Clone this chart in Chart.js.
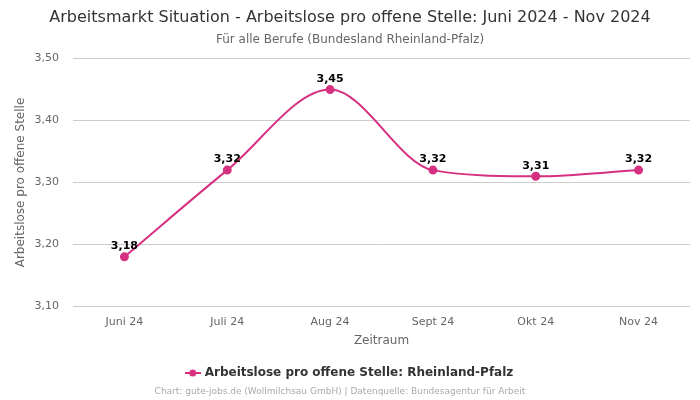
<!DOCTYPE html>
<html>
<head>
<meta charset="utf-8">
<script src="https://cdn.jsdelivr.net/npm/chart.js@4"></script>
<style>
  body { margin: 0; background: #fff; }
  #wrap { width: 700px; height: 400px; }
</style>
</head>
<body>
<div id="wrap"><canvas id="chart" width="700" height="400"></canvas></div>
<script>
const months = ['Juni 24', 'Juli 24', 'Aug 24', 'Sept 24', 'Okt 24', 'Nov 24'];
const values = [3.18, 3.32, 3.45, 3.32, 3.31, 3.32];
const seriesName = 'Arbeitslose pro offene Stelle: Rheinland-Pfalz';
const lineColor = 'rgb(214, 48, 128)';

const fmt = v => v.toFixed(2).replace('.', ',');

// small legend icon: line with a dot in the middle
function legendIcon() {
  const c = document.createElement('canvas');
  c.width = 16; c.height = 10;
  const g = c.getContext('2d');
  g.strokeStyle = lineColor;
  g.lineWidth = 2;
  g.beginPath(); g.moveTo(0, 5); g.lineTo(16, 5); g.stroke();
  g.fillStyle = lineColor;
  g.beginPath(); g.arc(8, 5, 3.5, 0, Math.PI * 2); g.fill();
  return c;
}

const valueLabels = {
  id: 'valueLabels',
  afterDatasetsDraw(chart) {
    const ctx = chart.ctx;
    const meta = chart.getDatasetMeta(0);
    ctx.save();
    ctx.font = 'bold 11px "DejaVu Sans"';
    ctx.fillStyle = '#000';
    ctx.textAlign = 'center';
    ctx.textBaseline = 'bottom';
    meta.data.forEach((pt, i) => {
      ctx.fillText(fmt(values[i]), pt.x, pt.y - 5);
    });
    ctx.restore();
  }
};

const footer = {
  id: 'footer',
  afterDraw(chart) {
    const ctx = chart.ctx;
    ctx.save();
    ctx.font = '9px "DejaVu Sans"';
    ctx.fillStyle = '#aaa';
    ctx.textAlign = 'center';
    ctx.textBaseline = 'middle';
    ctx.fillText('Chart: gute-jobs.de (Wollmilchsau GmbH) | Datenquelle: Bundesagentur für Arbeit', 340, 392);
    ctx.restore();
  }
};

new Chart(document.getElementById('chart'), {
  type: 'line',
  data: {
    labels: months,
    datasets: [{
      label: seriesName,
      data: values,
      borderColor: lineColor,
      backgroundColor: lineColor,
      borderWidth: 2,
      pointRadius: 3.5,
      pointHoverRadius: 3.5,
      cubicInterpolationMode: 'monotone',
      fill: false
    }]
  },
  options: {
    responsive: false,
    animation: false,
    layout: { padding: { left: 0, right: 0, bottom: 11, top: 0 } },
    plugins: {
      title: {
        display: true,
        text: 'Arbeitsmarkt Situation - Arbeitslose pro offene Stelle: Juni 2024 - Nov 2024',
        color: '#333',
        font: { family: 'DejaVu Sans', size: 16, weight: 'normal' },
        padding: { top: 8, bottom: 5 }
      },
      subtitle: {
        display: true,
        text: 'Für alle Berufe (Bundesland Rheinland-Pfalz)',
        color: '#666',
        font: { family: 'DejaVu Sans', size: 12 },
        padding: { bottom: 12 }
      },
      legend: {
        position: 'bottom',
        labels: {
          color: '#333',
          padding: 12,
          font: { family: 'DejaVu Sans', size: 12, weight: 'bold' },
          usePointStyle: true,
          generateLabels(chart) {
            return [{
              text: seriesName,
              pointStyle: legendIcon(),
              fillStyle: lineColor,
              strokeStyle: lineColor,
              fontColor: '#333',
              lineWidth: 0,
              datasetIndex: 0
            }];
          }
        }
      },
      tooltip: { enabled: false }
    },
    scales: {
      x: {
        offset: true,
        grid: { display: false },
        border: { display: false },
        ticks: { color: '#666', font: { family: 'DejaVu Sans', size: 11 }, padding: 1 },
        title: {
          display: true, text: 'Zeitraum', color: '#666',
          padding: { top: 4, bottom: 7 },
          font: { family: 'DejaVu Sans', size: 12 }
        }
      },
      y: {
        min: 3.1,
        max: 3.5,
        border: { display: false },
        grid: { color: '#ccc', drawTicks: false },
        afterFit(scale) { scale.width = 73; },
        ticks: {
          stepSize: 0.1,
          color: '#666',
          padding: 14,
          font: { family: 'DejaVu Sans', size: 11 },
          callback: v => fmt(v)
        },
        title: {
          display: true, text: 'Arbeitslose pro offene Stelle', color: '#666',
          padding: { top: 14, bottom: 5 },
          font: { family: 'DejaVu Sans', size: 12 }
        }
      },
      // empty right axis, only keeps a 10px gap on the right
      yRight: {
        position: 'right',
        min: 3.1,
        max: 3.5,
        border: { display: false },
        grid: { display: false },
        ticks: { display: false },
        afterFit(scale) { scale.width = 10; }
      }
    }
  },
  plugins: [valueLabels, footer]
});
</script>
</body>
</html>
